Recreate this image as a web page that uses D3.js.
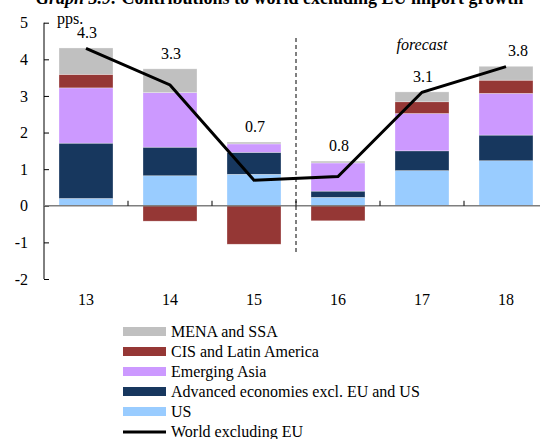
<!DOCTYPE html>
<html>
<head>
<meta charset="utf-8">
<script src="https://cdn.jsdelivr.net/npm/d3@7"></script>
<style>
  body { margin: 0; background: #fff; }
  svg { display: block; font-family: "Liberation Serif", "Times New Roman", serif; }
  svg text { font-family: "Liberation Serif", "Times New Roman", serif; }
</style>
</head>
<body>
<div id="wrapper"></div>
<script>
// data
const years = ["13", "14", "15", "16", "17", "18"];
const us       = [0.20, 0.82, 0.86, 0.23, 0.96, 1.23];
const advEcon  = [1.51, 0.78, 0.60, 0.17, 0.54, 0.70];
const emAsia   = [1.51, 1.49, 0.23, 0.77, 1.02, 1.14];
const cisLatAm = [0.37, -0.42, -1.05, -0.41, 0.32, 0.36];
const menaSsa  = [0.72, 0.65, 0.05, 0.05, 0.27, 0.38];
const world    = [4.3, 3.3, 0.7, 0.8, 3.1, 3.8];
const worldLabels = ["4.3", "3.3", "0.7", "0.8", "3.1", "3.8"];
const yTicks = [-2, -1, 0, 1, 2, 3, 4, 5];

const seriesNames = ["US", "Advanced economies excl. EU and US", "Emerging Asia", "CIS and Latin America", "MENA and SSA"];
const seriesColors = ["#99ccff", "#17375e", "#cc99ff", "#953735", "#c0c0c0"];

function build() {
    const width = 540, height = 439;
    const margin = {left: 44, top: 22.7, bottom: 279};

    const svg = d3.select("#wrapper").append("svg")
        .attr("width", width)
        .attr("height", height);

    // table for the stack
    const table = years.map((yr, i) => ({
        year: yr,
        "US": us[i],
        "Advanced economies excl. EU and US": advEcon[i],
        "Emerging Asia": emAsia[i],
        "CIS and Latin America": cisLatAm[i],
        "MENA and SSA": menaSsa[i]
    }));

    const stacked = d3.stack()
        .keys(seriesNames)
        .offset(d3.stackOffsetDiverging)(table);

    const x = d3.scaleBand()
        .domain(years)
        .range([margin.left, margin.left + 84 * years.length])
        .paddingInner(30 / 84)
        .paddingOuter(15 / 84);

    const y = d3.scaleLinear()
        .domain([-2, 5])
        .range([margin.bottom, margin.top]);

    // title (cut off at the top like the source)
    svg.append("text")
        .attr("x", 36)
        .attr("y", 4)
        .style("font-size", "18px")
        .style("font-weight", "bold")
        .html('<tspan font-style="italic">Graph 3.9:</tspan> Contributions to world excluding EU import growth');

    svg.append("text")
        .attr("x", 57)
        .attr("y", 24)
        .style("font-size", "16px")
        .text("pps.");

    // bars
    svg.append("g")
        .selectAll("g")
        .data(stacked)
        .enter()
        .append("g")
        .attr("fill", (d, i) => seriesColors[i])
        .selectAll("rect")
        .data(d => d)
        .enter()
        .append("rect")
        .attr("x", d => x(d.data.year))
        .attr("width", x.bandwidth())
        .attr("y", d => y(Math.max(d[0], d[1])))
        .attr("height", d => Math.abs(y(d[0]) - y(d[1])))
        .attr("stroke", "#ffffff")
        .attr("stroke-opacity", 0.5)
        .attr("stroke-width", 0.6);

    // y axis
    const yAxis = d3.axisLeft(y)
        .tickValues(yTicks)
        .tickSize(-5)
        .tickPadding(16)
        .tickFormat(d => String(d));
    const gy = svg.append("g")
        .attr("transform", `translate(${margin.left},0)`)
        .call(yAxis);
    gy.attr("font-family", null).attr("font-size", null);
    gy.select(".domain").attr("stroke", "#000").attr("d", `M0,${y(-2)}V${y(5)}`);
    gy.selectAll(".tick line").attr("stroke", "#000");
    gy.selectAll("text")
        .style("font-size", "16px")
        .attr("fill", "#000");

    // x axis at zero, ticks between categories
    const boundaries = years.slice(1).map(yr => x(yr) - x.step() * x.paddingInner() / 2);
    svg.append("line")
        .attr("x1", margin.left)
        .attr("x2", width)
        .attr("y1", y(0))
        .attr("y2", y(0))
        .attr("stroke", "#7f7f7f")
        .attr("stroke-width", 1.5);
    svg.append("g")
        .selectAll("line")
        .data(boundaries)
        .enter()
        .append("line")
        .attr("x1", d => d)
        .attr("x2", d => d)
        .attr("y1", y(0))
        .attr("y2", y(0) - 5)
        .attr("stroke", "#000");

    // category labels below the plot
    svg.append("g")
        .selectAll("text")
        .data(years)
        .enter()
        .append("text")
        .attr("x", d => x(d) + x.bandwidth() / 2)
        .attr("y", 305)
        .attr("text-anchor", "middle")
        .style("font-size", "16px")
        .text(d => d);

    // forecast divider
    svg.append("line")
        .attr("x1", boundaries[2])
        .attr("x2", boundaries[2])
        .attr("y1", 38)
        .attr("y2", 252)
        .attr("stroke", "#000")
        .attr("stroke-dasharray", "4,3");

    svg.append("text")
        .attr("x", 422)
        .attr("y", 50)
        .attr("text-anchor", "middle")
        .style("font-size", "16px")
        .style("font-style", "italic")
        .text("forecast");

    // world line
    const line = d3.line()
        .x((d, i) => x(years[i]) + x.bandwidth() / 2)
        .y(d => y(d));
    svg.append("path")
        .datum(world)
        .attr("d", line)
        .attr("fill", "none")
        .attr("stroke", "#000")
        .attr("stroke-width", 3);

    // value labels above the bars
    const tops = stacked[stacked.length - 1];
    svg.append("g")
        .selectAll("text")
        .data(worldLabels)
        .enter()
        .append("text")
        .attr("x", (d, i) => x(years[i]) + x.bandwidth() / 2 + (i === years.length - 1 ? 12 : 1))
        .attr("y", (d, i) => y(Math.max(tops[i][1], world[i])) - 10)
        .attr("text-anchor", "middle")
        .style("font-size", "16px")
        .text(d => d);

    // legend
    const legendNames = seriesNames.slice().reverse();
    const legendColors = seriesColors.slice().reverse();
    const legend = svg.append("g").attr("transform", "translate(123,327)");
    legendNames.forEach((name, i) => {
        legend.append("rect")
            .attr("x", 0)
            .attr("y", i * 20)
            .attr("width", 43)
            .attr("height", 9)
            .attr("fill", legendColors[i]);
        legend.append("text")
            .attr("x", 48)
            .attr("y", i * 20 + 10)
            .style("font-size", "16px")
            .text(name);
    });
    legend.append("line")
        .attr("x1", 0)
        .attr("x2", 43)
        .attr("y1", 105)
        .attr("y2", 105)
        .attr("stroke", "#000")
        .attr("stroke-width", 3);
    legend.append("text")
        .attr("x", 48)
        .attr("y", 110)
        .style("font-size", "16px")
        .text("World excluding EU");
}

build();
</script>
</body>
</html>
